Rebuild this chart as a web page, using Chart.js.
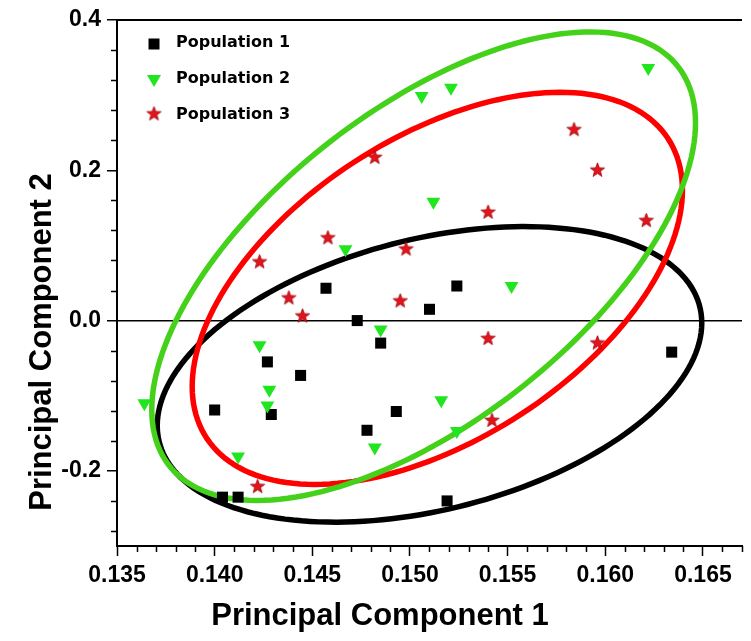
<!DOCTYPE html>
<html>
<head>
<meta charset="utf-8">
<script src="https://cdn.jsdelivr.net/npm/chart.js@4.4.0/dist/chart.umd.min.js"></script>
<style>
  html, body { margin: 0; padding: 0; background: #fff; }
  #pca { display: block; }
</style>
</head>
<body>
<canvas id="pca" width="751" height="641"></canvas>
<script>
// PCA scores
const pop1X = [0.1400, 0.1427, 0.1429, 0.1444, 0.1457, 0.1473, 0.1485, 0.1510, 0.1524, 0.1478, 0.1493, 0.1404, 0.1412, 0.1519, 0.1634];
const pop1Y = [-0.119, -0.055, -0.125, -0.073, 0.043, 0.000, -0.030, 0.015, 0.046, -0.146, -0.121, -0.235, -0.235, -0.240, -0.042];

const pop2X = [0.1506, 0.1521, 0.1622, 0.1512, 0.1467, 0.1552, 0.1485, 0.1423, 0.1428, 0.1427, 0.1364, 0.1412, 0.1482, 0.1516, 0.1524];
const pop2Y = [0.299, 0.310, 0.336, 0.158, 0.095, 0.046, -0.012, -0.033, -0.092, -0.113, -0.110, -0.181, -0.169, -0.106, -0.147];

const pop3X = [0.1482, 0.1584, 0.1596, 0.1423, 0.1458, 0.1498, 0.1540, 0.1621, 0.1438, 0.1445, 0.1495, 0.1540, 0.1596, 0.1542, 0.1422];
const pop3Y = [0.217, 0.254, 0.200, 0.078, 0.110, 0.095, 0.144, 0.133, 0.030, 0.006, 0.026, -0.024, -0.030, -0.133, -0.221];

const popNames = ['Population 1', 'Population 2', 'Population 3'];

// confidence ellipses (pop 1, 2, 3): centre, half width, half height,
// and the y offset of the rightmost point
const ellCx = [0.1510, 0.1507, 0.1514];
const ellCy = [-0.0716, 0.0724, 0.0429];
const ellW = [0.01394, 0.01392, 0.01255];
const ellH = [0.1967, 0.3117, 0.2609];
const ellA = [0.0683, 0.1909, 0.1307];

const xTicks = [0.135, 0.140, 0.145, 0.150, 0.155, 0.160, 0.165];
const yTicks = [-0.2, 0.0, 0.2, 0.4];

const popColors = ['#000000', '#1fe61f', '#e3141c'];
const ellColors = ['#000000', '#44d11a', '#ff0000'];

function toPoints(xs, ys) {
    return xs.map((x, i) => ({ x: x, y: ys[i] }));
}

// filled five point star used as a point style
function makeStar(size) {
    const c = document.createElement('canvas');
    c.width = size;
    c.height = size;
    const g = c.getContext('2d');
    const r = size / 2 - 1, ri = r * 0.42;
    g.beginPath();
    for (let i = 0; i < 10; i++) {
        const a = -Math.PI / 2 + i * Math.PI / 5;
        const rr = i % 2 === 0 ? r : ri;
        g.lineTo(size / 2 + rr * Math.cos(a), size / 2 + rr * Math.sin(a));
    }
    g.closePath();
    g.fillStyle = '#e3141c';
    g.fill();
    g.strokeStyle = '#9a0a10';
    g.lineWidth = 0.8;
    g.stroke();
    return c;
}
const starImg = makeStar(17);

const minorStepsX = [];
for (let i = 135; i <= 167; i++) {
    if (i % 5 !== 0) minorStepsX.push(i / 1000);
}
const minorStepsY = [];
for (let i = -7; i <= 10; i++) {
    if (i % 5 !== 0) minorStepsY.push(i * 0.04);
}

const decorations = {
    id: 'decorations',
    beforeDatasetsDraw(chart) {
        const ctx = chart.ctx;
        const xs = chart.scales.x, ys = chart.scales.y;
        ctx.save();
        ctx.lineWidth = 5.5;
        [0, 2, 1].forEach(k => {
            const b = Math.sqrt(ellH[k] * ellH[k] - ellA[k] * ellA[k]);
            const px = xs.getPixelForValue(ellCx[k]);
            const py = ys.getPixelForValue(ellCy[k]);
            const ux = xs.getPixelForValue(ellCx[k] + ellW[k]) - px;
            const uy = ys.getPixelForValue(ellCy[k] + ellA[k]) - py;
            const vy = ys.getPixelForValue(ellCy[k] + b) - py;
            ctx.strokeStyle = ellColors[k];
            ctx.beginPath();
            for (let i = 0; i <= 180; i++) {
                const t = i / 180 * Math.PI * 2;
                ctx.lineTo(px + ux * Math.cos(t), py + uy * Math.cos(t) + vy * Math.sin(t));
            }
            ctx.closePath();
            ctx.stroke();
        });
        ctx.restore();
    },
    afterDraw(chart) {
        const ctx = chart.ctx;
        const area = chart.chartArea;
        const xs = chart.scales.x, ys = chart.scales.y;
        ctx.save();
        ctx.strokeStyle = '#000';
        ctx.lineWidth = 2;
        // top frame line
        ctx.beginPath();
        ctx.moveTo(area.left - 1, area.top);
        ctx.lineTo(area.right, area.top);
        ctx.stroke();
        // minor ticks
        ctx.lineWidth = 1.5;
        ctx.beginPath();
        minorStepsX.forEach(v => {
            const p = Math.round(xs.getPixelForValue(v)) + 0.5;
            ctx.moveTo(p, area.bottom);
            ctx.lineTo(p, area.bottom + 6);
        });
        minorStepsY.forEach(v => {
            const p = Math.round(ys.getPixelForValue(v)) + 0.5;
            ctx.moveTo(area.left, p);
            ctx.lineTo(area.left - 6, p);
        });
        ctx.stroke();

        // axis titles
        ctx.fillStyle = '#000';
        ctx.font = 'bold 31px "Liberation Sans", Arial, sans-serif';
        ctx.textAlign = 'center';
        ctx.textBaseline = 'middle';
        ctx.fillText('Principal Component 1', 380, 616);
        ctx.save();
        ctx.translate(42, 342);
        ctx.rotate(-Math.PI / 2);
        ctx.fillText('Principal Component 2', 0, 0);
        ctx.restore();

        // legend
        ctx.font = 'bold 16px "DejaVu Sans", Verdana, sans-serif';
        ctx.textAlign = 'left';
        const lx = 154, rows = [43, 79, 115];
        rows.forEach((ry, k) => {
            if (k === 0) {
                ctx.fillStyle = popColors[0];
                ctx.fillRect(lx - 5.5, ry - 4.5, 11, 11);
            } else if (k === 1) {
                ctx.fillStyle = popColors[1];
                ctx.beginPath();
                ctx.moveTo(lx - 7, ry - 4);
                ctx.lineTo(lx + 7, ry - 4);
                ctx.lineTo(lx, ry + 8);
                ctx.closePath();
                ctx.fill();
            } else {
                ctx.drawImage(starImg, lx - starImg.width / 2, ry - starImg.height / 2 - 1);
            }
            ctx.fillStyle = '#000';
            ctx.fillText(popNames[k], 176, ry);
        });
        ctx.restore();
    }
};

const chart = new Chart(document.getElementById('pca'), {
    type: 'scatter',
    data: {
        datasets: [{
            label: popNames[0],
            data: toPoints(pop1X, pop1Y),
            pointStyle: 'rect',
            pointRadius: 7.8,
            backgroundColor: popColors[0],
            borderWidth: 0,
            order: 3
        }, {
            label: popNames[1],
            data: toPoints(pop2X, pop2Y),
            pointStyle: 'triangle',
            rotation: 180,
            pointRadius: 8,
            backgroundColor: popColors[1],
            borderWidth: 0,
            order: 2
        }, {
            label: popNames[2],
            data: toPoints(pop3X, pop3Y),
            pointStyle: starImg,
            pointRadius: 8,
            order: 1
        }]
    },
    options: {
        responsive: false,
        animation: false,
        devicePixelRatio: 1,
        layout: { padding: { top: 20, right: 0, left: 0, bottom: 0 } },
        plugins: {
            legend: { display: false },
            tooltip: { enabled: false }
        },
        scales: {
            x: {
                type: 'linear',
                min: 0.135,
                max: 0.167,
                afterBuildTicks: scale => { scale.ticks = xTicks.map(v => ({ value: v })); },
                afterFit: scale => {
                    scale.height = 95;
                    scale.paddingRight = 0;
                    scale.paddingLeft = 0;
                },
                border: { color: '#000', width: 2 },
                grid: { drawOnChartArea: false, tickLength: 10, tickColor: '#000', tickWidth: 1.5 },
                ticks: {
                    color: '#000',
                    padding: 6,
                    maxRotation: 0,
                    font: { family: '"Liberation Sans", Arial, sans-serif', size: 23, weight: 'bold' },
                    callback: v => v.toFixed(3)
                }
            },
            y: {
                type: 'linear',
                min: -0.3,
                max: 0.4,
                afterBuildTicks: scale => { scale.ticks = yTicks.map(v => ({ value: v })); },
                afterFit: scale => { scale.width = 117; },
                border: { color: '#000', width: 2 },
                grid: {
                    color: c => (c.tick && Math.abs(c.tick.value) < 1e-9) ? '#000' : 'rgba(0,0,0,0)',
                    lineWidth: 1.5,
                    tickLength: 10,
                    tickColor: '#000',
                    tickWidth: 1.5
                },
                ticks: {
                    color: '#000',
                    padding: 6,
                    font: { family: '"Liberation Sans", Arial, sans-serif', size: 23, weight: 'bold' },
                    callback: v => v.toFixed(1)
                }
            }
        }
    },
    plugins: [decorations]
});

// the plot in the figure runs to the right edge of the picture
const gap = chart.width - chart.chartArea.right;
if (gap > 0.5) {
    chart.options.layout.padding.right = -gap;
    chart.update();
}
</script>
</body>
</html>
